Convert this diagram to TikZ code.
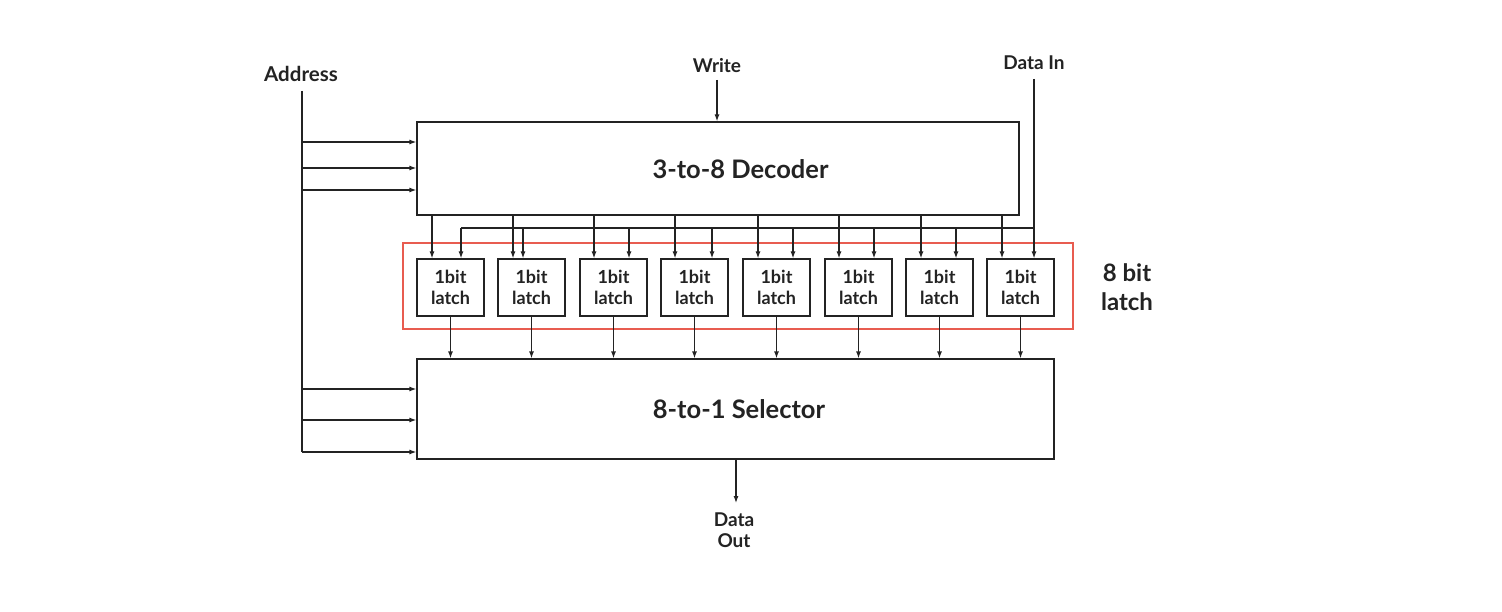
\documentclass[tikz,border=0pt]{standalone}
\usepackage{fontspec}
\setmainfont{Lato}
\usetikzlibrary{arrows.meta}
\definecolor{ink}{RGB}{35,35,35}
\definecolor{boxred}{RGB}{232,92,80}
\begin{document}
\begin{tikzpicture}[x=1pt,y=-1pt,
  every node/.style={font=\bfseries, text=ink},
  line/.style={draw=ink, line width=1.2pt},
  arr/.style={line, -{Latex[length=7pt,width=5pt]}},
  bigbox/.style={draw=ink, line width=1.2pt, inner sep=0pt},
  bigtext/.style={inner sep=0pt, font=\bfseries\fontsize{25.5}{27}\selectfont},
  latchbox/.style={draw=ink, line width=1.2pt, inner sep=0pt, minimum width=67pt, minimum height=57pt, align=center, font=\bfseries\fontsize{18}{21}\selectfont},
  lab/.style={inner sep=0pt, align=center, font=\bfseries\fontsize{19}{21}\selectfont}
]
\useasboundingbox (0,0) rectangle (1502,612);
\fill[white] (0,0) rectangle (1502,612);

% main blocks
\node[bigbox, minimum width=602pt, minimum height=93pt] (dec) at (718,168.5) {};
\node[bigtext] (dectxt) at (740.5,169) {3-to-8 Decoder};
\node[bigbox, minimum width=637pt, minimum height=100pt] (sel) at (735.5,409) {};
\node[bigtext] (seltxt) at (739,409) {8-to-1 Selector};

% red group box
\node[draw=boxred, line width=1.2pt, inner sep=0pt, minimum width=670pt, minimum height=86pt] (grp) at (738,286) {};
\node[lab, font=\bfseries\fontsize{24}{29}\selectfont] (grplab) at (1127,287) {8 bit\\latch};

% labels
\node[lab, font=\bfseries\fontsize{20.5}{22}\selectfont] (addr) at (301,74) {Address};
\node[lab] (write) at (717,66) {Write};
\node[lab] (din) at (1034,63) {Data In};
\node[lab] (dout) at (734,530) {Data\\Out};

\coordinate (addrtop) at (302,91);
\coordinate (addrbot) at (302,452);
\coordinate (writetop) at (717,80);
\coordinate (dintop) at (1034,79);
\coordinate (bus) at (461,228);
\coordinate (doutend) at (736,503);

% latches and their connectors
\foreach \i/\x/\dx/\dn in {1/417/432/461, 2/498/513/523, 3/580/594/629, 4/661/675/712, 5/743/758/793, 6/825/839/874, 7/906/921/956, 8/987/1002/1034}{
  \node[latchbox] (l\i) at (\x+33.5,287.5) {1bit\\latch};
  \draw[arr] (\dx,0 |- dec.south) -- (\dx,0 |- l\i.north);
  \draw[arr] (\dn,0 |- bus) -- (\dn,0 |- l\i.north);
  \draw[arr] (l\i.south) -- (l\i.south |- sel.north);
}

% data in bus
\draw[line] (dintop) -- (dintop |- bus);
\draw[line] (bus) -- (bus -| dintop);

% write
\draw[arr] (writetop) -- (writetop |- dec.north);

% address
\draw[line] (addrtop) -- (addrbot);
\foreach \y in {142,168,190}{
  \draw[arr] (302,\y) -- (dec.west |- 0,\y);
}
\foreach \y in {389,420,452}{
  \draw[arr] (302,\y) -- (sel.west |- 0,\y);
}

% data out
\draw[arr] (sel.south -| doutend) -- (doutend);
\end{tikzpicture}
\end{document}
